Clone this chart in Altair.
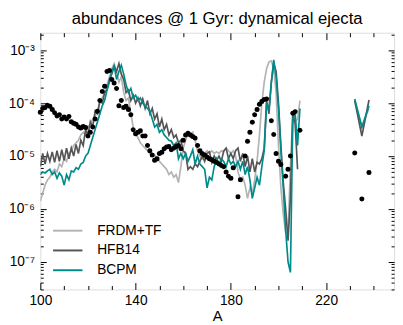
import altair as alt
import pandas as pd

FONT = "Liberation Sans"

models = ["FRDM+TF", "HFB14", "BCPM"]
colors = ["#b3b3b3", "#555555", "#008b8b"]

# log10 abundances, one value per mass number
frdm_A0 = 100
frdm_log = [-5.85, -5.70, -5.55, -5.45, -5.40, -5.30, -5.25, -5.30, -5.15, -5.20,
            -5.05, -5.10, -4.95, -4.90, -4.80, -4.75, -4.70, -4.60, -4.55, -4.60,
            -4.45, -4.40, -4.30, -4.25, -4.15, -4.00, -3.90, -3.80, -3.65, -3.50,
            -3.35, -3.25, -3.40, -3.60, -3.50, -3.80, -3.95, -3.90, -4.20, -4.45,
            -4.60, -4.65, -4.75, -4.80, -4.85, -4.90, -4.95, -5.00, -4.98, -5.05,
            -5.10, -5.15, -5.20, -5.25, -5.35, -5.30, -5.40, -5.35, -5.50, -5.20,
            -4.85, -4.70, -4.55, -4.60, -4.55, -4.70, -4.90, -5.00, -5.05, -4.95,
            -4.90, -4.95, -4.90, -4.95, -4.92, -4.95, -4.90, -4.92, -4.85, -4.90,
            -4.95, -4.90, -5.00, -5.30, -5.45, -5.40, -5.55, -5.80, -5.60, -5.70,
            -5.45, -5.10, -4.60, -4.00, -3.60, -3.35, -3.22, -3.20, -3.35, -3.80,
            -4.80, -5.60, -6.10, -6.45, -6.45, -5.20, -4.20, -4.35, -4.30, -3.95]

hfb_A0 = 100
hfb_log = [-5.20, -4.95, -5.15, -4.95, -5.10, -4.92, -5.12, -4.90, -5.10, -4.88,
           -5.08, -4.85, -5.05, -4.85, -5.00, -4.78, -4.95, -4.70, -4.80, -4.50,
           -4.60, -4.35, -4.45, -4.15, -4.20, -3.95, -4.00, -3.80, -3.75, -3.55,
           -3.45, -3.30, -3.40, -3.25, -3.45, -3.55, -3.80, -3.75, -3.95, -3.85,
           -4.00, -3.90, -4.05, -3.92, -4.10, -3.95, -4.20, -4.10, -4.30, -4.20,
           -4.45, -4.30, -4.50, -4.40, -4.60, -4.50, -4.65, -4.60, -4.75, -4.70,
           -4.90, -4.95, -5.25, -5.20, -5.25, -5.15, -5.20, -5.10, -5.00, -5.10,
           -4.95, -4.92, -5.12, -5.00, -5.08, -5.00, -5.10, -4.90, -4.85, -5.05,
           -4.95, -5.05, -4.90, -4.85, -5.10, -4.95, -5.20, -5.00, -5.30, -5.05,
           -5.30, -5.12, -5.15, -5.05, -4.85, -3.95, -4.20, -3.60, -3.25, -3.40,
           -4.00, -4.80, -5.50, -6.00, -6.60, -5.80, -4.20, -4.40, -5.25]

bcpm_A0 = 100
bcpm_log = [-5.35, -5.30, -5.32, -5.28, -5.25, -5.35, -5.30, -5.42, -5.32, -5.38,
            -5.55, -5.35, -5.45, -5.28, -5.30, -5.22, -5.25, -5.15, -5.12, -5.00,
            -4.95, -4.80, -4.65, -4.50, -4.35, -4.20, -4.05, -3.95, -3.75, -3.60,
            -3.40, -3.30, -3.55, -3.40, -3.28, -3.45, -3.65, -3.80, -3.72, -3.90,
            -3.85, -3.95, -3.90, -4.00, -4.05, -4.10, -4.15, -4.30, -4.45, -4.40,
            -4.55, -4.50, -4.60, -4.65, -4.70, -4.72, -4.80, -4.75, -5.05, -4.95,
            -5.05, -4.95, -5.10, -5.00, -4.88, -5.15, -5.00, -5.15, -5.20, -5.25,
            -5.60, -5.40, -5.45, -5.20, -5.05, -5.15, -5.05, -5.10, -5.20, -5.05,
            -5.15, -5.10, -5.20, -5.10, -5.25, -5.10, -5.35, -5.20, -5.45, -5.80,
            -5.60, -5.40, -5.55, -5.20, -4.90, -4.00, -4.10, -3.60, -3.18, -3.50,
            -4.10, -4.90, -5.60, -6.40, -7.00, -7.20, -4.30, -4.20, -4.80, -4.10]

# actinide segment
act_A = [232, 235, 238]
frdm_act = [-3.95, -4.45, -4.10]
hfb_act = [-3.95, -4.62, -3.94]
bcpm_act = [-3.92, -4.45, -4.05]

# solar r-process points
solar_A = list(range(100, 182)) + [183, 184, 186, 187, 188, 189, 190, 191, 192, 193,
                                   194, 195, 197, 198, 199, 200, 201, 203, 204, 205,
                                   206, 207, 209, 232, 235, 238]
solar_log = [-4.17, -4.10, -4.08, -4.04, -4.06, -4.12, -4.18, -4.24, -4.22, -4.30,
             -4.26, -4.30, -4.25, -4.35, -4.38, -4.40, -4.45, -4.47, -4.44, -4.46,
             -4.62, -4.55, -4.45, -4.30, -4.15, -3.95, -3.78, -3.68, -3.40, -3.38,
             -3.55, -3.62, -3.72, -4.05, -3.95, -4.08, -4.06, -4.12, -4.22, -4.50,
             -4.58, -4.55, -4.52, -4.62, -4.62, -4.80, -4.90, -4.98, -5.08, -5.05,
             -4.95, -4.93, -4.86, -4.83, -4.82, -4.88, -4.85, -4.82, -4.80, -4.86,
             -4.70, -4.60, -4.57, -4.60, -4.63, -4.66, -4.80, -4.90, -4.95, -4.98,
             -5.02, -5.05, -5.07, -5.10, -5.12, -5.15, -5.18, -5.20, -5.30, -5.38,
             -5.42, -5.22,
             -5.77, -5.45, -5.00, -4.72, -4.55, -4.36, -4.22, -4.12, -4.02, -3.97,
             -3.93, -3.92, -4.33, -4.59, -4.95, -5.10, -5.16, -5.38, -5.25, -5.00,
             -4.19, -4.16, -4.51, -4.94, -5.81, -5.31]

x_major = [100, 140, 180, 220]
x_minor = [110, 120, 130, 150, 160, 170, 190, 200, 210, 230, 240]
y_major = [1e-7, 1e-6, 1e-5, 1e-4, 1e-3]
y_minor = [k * 10.0 ** e for e in range(-8, -2) for k in range(2, 10)
           if 3e-8 <= k * 10.0 ** e <= 2.15e-3]


def model_frame(name, a0, logs, act):
    rows = [{"A": a0 + i, "Y": 10.0 ** v, "model": name, "seg": name + "-1"}
            for i, v in enumerate(logs)]
    rows += [{"A": a, "Y": 10.0 ** v, "model": name, "seg": name + "-2"}
             for a, v in zip(act_A, act)]
    return pd.DataFrame(rows)


df_frdm = model_frame("FRDM+TF", frdm_A0, frdm_log, frdm_act)
df_hfb = model_frame("HFB14", hfb_A0, hfb_log, hfb_act)
df_bcpm = model_frame("BCPM", bcpm_A0, bcpm_log, bcpm_act)
df_solar = pd.DataFrame({"A": solar_A, "Y": [10.0 ** v for v in solar_log]})

xscale = alt.Scale(domain=[100, 248.5], nice=False, zero=False)
yscale = alt.Scale(type="log", domain=[3e-8, 2.15e-3], nice=False)
cscale = alt.Scale(domain=models, range=colors)

legend = alt.Legend(orient="none", legendX=21, legendY=195, title=None,
                    symbolType="M-2.5,0H2.5", symbolSize=144, symbolStrokeWidth=2,
                    labelFontSize=14, labelFont=FONT, labelColor="black",
                    labelOffset=23, rowPadding=6.2, padding=0)

x_label_axis = alt.Axis(orient="bottom", values=x_major, format="d", ticks=False,
                        tickSize=0, domain=False, grid=False, labelFlush=False,
                        labelFontSize=14, labelFont=FONT, labelColor="black",
                        labelPadding=4, title="A", titleFontSize=15, titleFont=FONT,
                        titleFontWeight="normal", titleColor="black", titlePadding=2)
y_label_axis = alt.Axis(orient="left", values=y_major, ticks=False, tickSize=0,
                        domain=False, grid=False, labelFontSize=14, labelFont=FONT,
                        labelColor="black", labelPadding=6, title=None,
                        labelExpr="datum.value > 5e-4 ? '10⁻³' : datum.value > 5e-5 ? '10⁻⁴' : "
                                  "datum.value > 5e-6 ? '10⁻⁵' : datum.value > 5e-7 ? '10⁻⁶' : '10⁻⁷'")


def line_layer(df, first):
    return alt.Chart(df).mark_line(strokeWidth=1.7, clip=True).encode(
        x=alt.X("A:Q", scale=xscale, axis=x_label_axis if first else None),
        y=alt.Y("Y:Q", scale=yscale, axis=y_label_axis if first else None),
        color=alt.Color("model:N", scale=cscale, legend=legend),
        detail="seg:N",
    )


def tick_axis(orient, values, size):
    return alt.Axis(orient=orient, values=values, labels=False, domain=False,
                    grid=False, ticks=True, tickSize=size, offset=-size,
                    tickColor="black", tickWidth=1, title=None)


def tick_layer(xo, yo, xv, yv, xs, ys):
    return alt.Chart(df_solar).mark_point(opacity=0).encode(
        x=alt.X("A:Q", scale=xscale, axis=tick_axis(xo, xv, xs)),
        y=alt.Y("Y:Q", scale=yscale, axis=tick_axis(yo, yv, ys)),
    )


dots = alt.Chart(df_solar).mark_circle(size=26, color="black", opacity=1).encode(
    x=alt.X("A:Q", scale=xscale, axis=None),
    y=alt.Y("Y:Q", scale=yscale, axis=None),
)

chart = alt.layer(
    line_layer(df_frdm, True),
    line_layer(df_hfb, False),
    line_layer(df_bcpm, False),
    dots,
    tick_layer("bottom", "left", x_major, y_major, 7, 6),
    tick_layer("bottom", "left", x_minor, y_minor, 4, 3),
    tick_layer("top", "right", x_major, y_major, 7, 6),
    tick_layer("top", "right", x_minor, y_minor, 4, 3),
).resolve_axis(x="independent", y="independent").properties(
    width=361, height=262,
    autosize=alt.AutoSizeParams(type="none"),
    padding={"left": 33, "top": 22, "right": 1, "bottom": 32},
    title=alt.TitleParams("abundances @ 1 Gyr: dynamical ejecta", fontSize=17,
                          font=FONT, fontWeight="normal", color="black",
                          anchor="middle", offset=4),
).configure_view(stroke="black", strokeWidth=1.5).configure(font=FONT)

chart.save("out.html", embed_options={"renderer": "svg", "actions": False})
